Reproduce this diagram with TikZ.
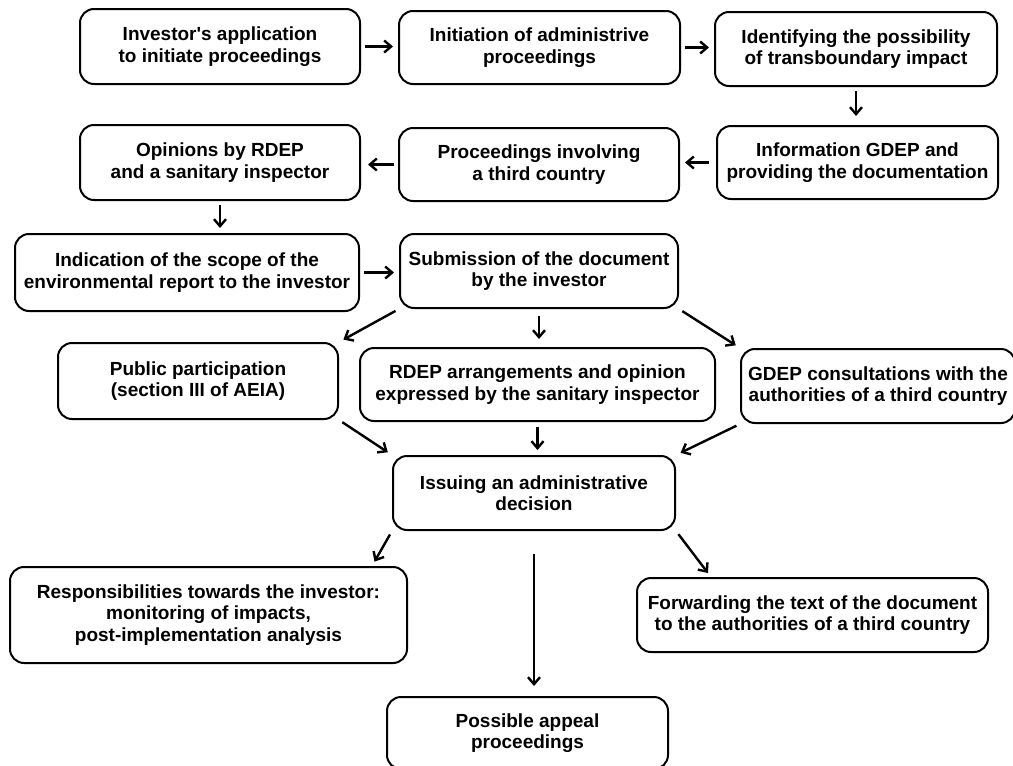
\documentclass[tikz,border=0pt]{standalone}
\usepackage{fontspec}
\setmainfont{Liberation Sans}
\usepackage{tikz}
\usetikzlibrary{arrows.meta}

\tikzset{
  stage/.style={draw, line width=2pt, rounded corners=14pt, align=center,
    inner sep=0pt, font=\bfseries\fontsize{19}{21.5}\selectfont},
  flow/.style={-{Straight Barb[length=7pt,width=12pt,line width=2.4pt]}, line width=2.4pt,
    shorten <=4pt, shorten >=5pt}
}

\begin{document}
\begin{tikzpicture}[x=1pt, y=-1pt]
\useasboundingbox (0,0) rectangle (1013,766);

% Nodes
  \node[stage, minimum width=280pt, minimum height=75pt] (appl)   at (220,46.5)  {Investor\textquotesingle s application\\to initiate proceedings}; %
  \node[stage, minimum width=281pt, minimum height=73pt] (init)   at (539.5,47.5) {Initiation of administrive\\proceedings}; %
  \node[stage, minimum width=282pt, minimum height=74pt] (ident)  at (856,49)    {Identifying the possibility\\of transboundary impact}; %
  \node[stage, minimum width=281pt, minimum height=73pt] (gdep)   at (857.5,162.5) {Information GDEP and\\providing the documentation}; %
  \node[stage, minimum width=280pt, minimum height=73pt] (third)  at (539,164.5) {Proceedings involving\\a third country}; %
  \node[stage, minimum width=280pt, minimum height=75pt] (opin)   at (220,162.5) {Opinions by RDEP\\and a sanitary inspector}; %
  \node[stage, minimum width=344pt, minimum height=77pt] (scope)  at (187,272.5) {Indication of the scope of the\\environmental report to the investor}; %
  \node[stage, minimum width=278pt, minimum height=74pt] (subm)   at (539,271)   {Submission of the document\\by the investor}; %
  \node[stage, minimum width=280pt, minimum height=76pt] (public) at (198,381)   {Public participation\\(section III of AEIA)}; %
  \node[stage, minimum width=355pt, minimum height=73pt] (rdep)   at (537.5,384.5) {RDEP arrangements and opinion\\expressed by the sanitary inspector}; %
  \node[stage, minimum width=274pt, minimum height=74pt] (consult) at (878,386)  {GDEP consultations with the\\authorities of a third country}; %
  \node[stage, minimum width=282pt, minimum height=74pt] (issue)  at (534,493)   {Issuing an administrative\\decision}; %
  \node[stage, minimum width=397pt, minimum height=96pt] (resp)   at (208.5,615) {Responsibilities towards the investor:\\monitoring of impacts,\\post-implementation analysis}; %
  \node[stage, minimum width=351pt, minimum height=74pt] (fwd)    at (812.5,615) {Forwarding the text of the document\\to the authorities of a third country}; %
  \node[stage, minimum width=281pt, minimum height=72pt] (appeal) at (527.5,733) {Possible appeal\\proceedings}; %

% Edges
  \draw[flow] (appl.east)  -- (appl.east -| init.west);
  \draw[flow] (init.east)  -- (init.east -| ident.west);
  \draw[flow, shorten >=9pt] (ident.south) -- (ident.south |- gdep.north);
  \draw[flow, shorten <=7pt] (gdep.west)   -- (gdep.west -| third.east);
  \draw[flow, shorten >=7pt] (third.west)  -- (third.west -| opin.east);
  \draw[flow] (opin.south) -- (opin.south |- scope.north);
  \draw[flow] (scope.east) -- (scope.east -| subm.west);
  \draw[flow] (subm.south west) -- (public.north east);
  \draw[flow, shorten <=7pt, shorten >=8pt] (subm.south) -- (subm.south |- rdep.north);
  \draw[flow] (subm.south east) -- (consult.north west);
  \draw[flow] (public.south east) -- (issue.north west);
  \draw[flow, shorten <=5pt] (rdep.south) -- (rdep.south |- issue.north);
  \draw[flow] (consult.south west) -- (issue.north east);
  \draw[flow] (issue.south west) -- ([xshift=-36pt]resp.north east);
  \draw[flow, shorten <=23pt, shorten >=10pt] (issue.south) -- (issue.south |- appeal.north);
  \draw[flow] (issue.south east) -- ([xshift=75pt]fwd.north west);

\end{tikzpicture}
\end{document}
